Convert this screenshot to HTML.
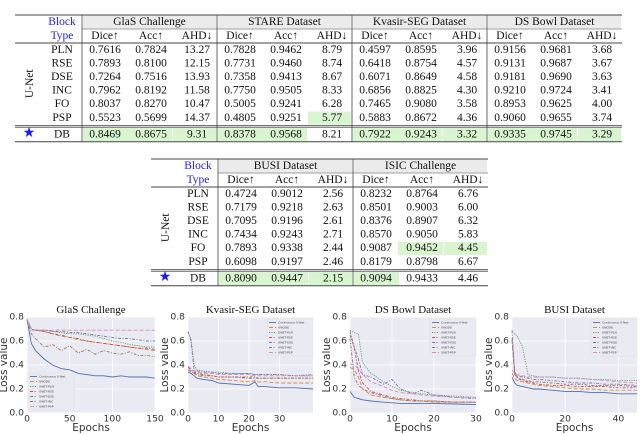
<!DOCTYPE html>
<html><head><meta charset="utf-8">
<style>
html,body{margin:0;padding:0;background:#fff;}
svg{display:block;}
</style></head>
<body>
<svg id="root" width="640" height="434" viewBox="0 0 640 434" xmlns="http://www.w3.org/2000/svg"></svg>
<script>
// ---------- table data ----------
const blockTypes = ["PLN","RSE","DSE","INC","FO","PSP","DB"];
const t1Datasets = ["GlaS Challenge","STARE Dataset","Kvasir-SEG Dataset","DS Bowl Dataset"];
const t1Values = [
 ["0.7616","0.7824","13.27","0.7828","0.9462","8.79","0.4597","0.8595","3.96","0.9156","0.9681","3.68"],
 ["0.7893","0.8100","12.15","0.7731","0.9460","8.74","0.6418","0.8754","4.57","0.9131","0.9687","3.67"],
 ["0.7264","0.7516","13.93","0.7358","0.9413","8.67","0.6071","0.8649","4.58","0.9181","0.9690","3.63"],
 ["0.7962","0.8192","11.58","0.7750","0.9505","8.33","0.6856","0.8825","4.30","0.9210","0.9724","3.41"],
 ["0.8037","0.8270","10.47","0.5005","0.9241","6.28","0.7465","0.9080","3.58","0.8953","0.9625","4.00"],
 ["0.5523","0.5699","14.37","0.4805","0.9251","5.77","0.5883","0.8672","4.36","0.9060","0.9655","3.74"],
 ["0.8469","0.8675","9.31","0.8378","0.9568","8.21","0.7922","0.9243","3.32","0.9335","0.9745","3.29"]];
const t1Green = [[5,5],[6,0],[6,1],[6,2],[6,3],[6,4],[6,6],[6,7],[6,8],[6,9],[6,10],[6,11]];
const t2Datasets = ["BUSI Dataset","ISIC Challenge"];
const t2Values = [
 ["0.4724","0.9012","2.56","0.8232","0.8764","6.76"],
 ["0.7179","0.9218","2.63","0.8501","0.9003","6.00"],
 ["0.7095","0.9196","2.61","0.8376","0.8907","6.32"],
 ["0.7434","0.9243","2.71","0.8570","0.9050","5.83"],
 ["0.7893","0.9338","2.44","0.9087","0.9452","4.45"],
 ["0.6098","0.9197","2.46","0.8179","0.8798","6.67"],
 ["0.8090","0.9447","2.15","0.9094","0.9433","4.46"]];
const t2Green = [[4,4],[4,5],[6,0],[6,1],[6,2],[6,3]];

// ---------- chart data ----------
const seriesNames = ["Continuous U-Net","UNODE","UNET-PLN","UNET-RSE","UNET-DSE","UNET-INC","UNET-PSP"];
const glasEpochs = [0,5,10,20,30,40,50,60,70,80,90,100,110,120,130,140,150];
const glasLoss = [
 [0.78,0.58,0.52,0.45,0.40,0.37,0.36,0.33,0.32,0.31,0.31,0.30,0.31,0.30,0.30,0.30,0.29],
 [0.78,0.70,0.69,0.68,0.66,0.64,0.63,0.61,0.60,0.59,0.58,0.57,0.56,0.55,0.54,0.53,0.52],
 [0.78,0.70,0.69,0.69,0.68,0.67,0.66,0.66,0.65,0.64,0.62,0.60,0.59,0.57,0.56,0.55,0.55],
 [0.78,0.70,0.69,0.68,0.66,0.65,0.63,0.62,0.60,0.59,0.58,0.57,0.56,0.55,0.54,0.54,0.53],
 [0.78,0.70,0.69,0.69,0.68,0.68,0.67,0.67,0.66,0.65,0.64,0.63,0.62,0.62,0.61,0.60,0.60],
 [0.78,0.66,0.62,0.55,0.57,0.52,0.56,0.50,0.53,0.49,0.52,0.50,0.49,0.51,0.48,0.48,0.47],
 [0.78,0.69,0.69,0.69,0.69,0.69,0.69,0.69,0.69,0.69,0.69,0.69,0.69,0.69,0.69,0.69,0.69]];
const kvasirEpochs = [0,1,2,3,5,8,10,15,20,22,23,25,30,35,41];
const kvasirLoss = [
 [.34,.33,.31,.29,.28,.27,.25,.24,.23,.26,.22,.22,.21,.21,.20],
 [.36,.34,.33,.31,.30,.29,.28,.27,.26,.27,.26,.26,.25,.25,.25],
 [.67,.62,.40,.36,.35,.34,.34,.33,.33,.32,.32,.32,.32,.31,.31],
 [.38,.36,.34,.33,.32,.31,.30,.30,.29,.29,.29,.29,.29,.29,.29],
 [.68,.60,.36,.35,.34,.34,.33,.33,.33,.32,.32,.32,.32,.31,.32],
 [.36,.35,.33,.32,.31,.31,.30,.30,.30,.30,.29,.29,.29,.29,.29],
 [.39,.37,.35,.34,.33,.33,.32,.32,.32,.31,.31,.31,.31,.31,.31]];
const bowlEpochs = [0,1,2,3,5,8,10,12,15,17,20,25,30];
const bowlLoss = [
 [.18,.13,.12,.11,.10,.09,.085,.08,.08,.08,.08,.075,.07],
 [.38,.36,.30,.20,.15,.13,.12,.11,.10,.10,.09,.09,.09],
 [.69,.67,.66,.42,.33,.26,.22,.19,.17,.16,.15,.14,.13],
 [.65,.55,.35,.25,.18,.15,.13,.12,.11,.10,.10,.09,.09],
 [.68,.55,.45,.32,.30,.24,.28,.20,.16,.19,.15,.13,.12],
 [.62,.30,.23,.20,.17,.14,.12,.11,.10,.10,.10,.09,.09],
 [.41,.40,.37,.32,.26,.22,.19,.17,.16,.15,.14,.13,.13]];
const busiEpochs = [0,1,2,4,6,8,10,15,20,25,30,35,40,47];
const busiLoss = [
 [.30,.25,.23,.22,.21,.20,.20,.19,.18,.18,.17,.17,.16,.16],
 [.33,.29,.27,.26,.25,.24,.23,.22,.21,.20,.20,.19,.19,.19],
 [.68,.66,.64,.55,.32,.31,.30,.30,.29,.29,.28,.28,.27,.27],
 [.62,.32,.29,.27,.26,.25,.24,.23,.23,.22,.22,.22,.21,.21],
 [.69,.34,.31,.30,.29,.28,.28,.27,.26,.25,.25,.24,.24,.23],
 [.60,.33,.30,.28,.27,.26,.26,.25,.24,.24,.23,.23,.23,.22],
 [.36,.33,.32,.31,.30,.30,.30,.30,.29,.29,.28,.27,.26,.25]];
const yTicks = [0.0,0.2,0.4,0.6,0.8];

const SERIF='"Liberation Serif","DejaVu Serif",serif';
const SANS='"DejaVu Sans","Liberation Sans",sans-serif';
const STY={
 tt:{f:SERIF,s:11.5,c:'#111'},
 tk:{f:SANS,s:9.2,c:'#333'},
 al:{f:SANS,s:10.5,c:'#333'},
 ct:{f:SERIF,s:11,c:'#111'},
 lg:{f:SANS,s:3,c:'#444'}
};
const NS="http://www.w3.org/2000/svg";
const root=document.getElementById('root');
function mk(tag,attrs,parent){const e=document.createElementNS(NS,tag);for(const k in attrs)e.setAttribute(k,attrs[k]);(parent||root).appendChild(e);return e;}
function txt(s,x,y,cls,anchor,parent){const st=STY[cls];const e=mk('text',{x:x,y:y,'font-family':st.f,'font-size':st.s,fill:st.c,'text-anchor':anchor||'middle','dominant-baseline':'central'},parent);e.textContent=s;return e;}

// ---------- tables ----------
function drawTable(ox,oy,datasets,values,greens,name){
  const g=mk('g',{});
  
  
  const dsW=135, left=ox, bx=ox+67, right=bx+dsW*datasets.length;
  const rh=13.6, top=oy, dataTop=oy+28;
  const rowY=i=> i<6 ? dataTop+rh*i : dataTop+rh*6+3;
  datasets.forEach((d,j)=>{mk('rect',{x:bx+dsW*j+1,y:top+0.5,width:dsW-2,height:13,fill:'#ebebeb'},g);});
  greens.forEach(([r,c])=>{const d=Math.floor(c/3),k=c%3;const x=bx+dsW*d+(k===0?1:k===1?45:91);
    const cell=mk('rect',{x:x,y:rowY(r)+0.5,width:k===2?43:45,height:rh-0.5,fill:'#d8f5d0'},g);
    
    });
  const b1=txt('Block',ox+47,top+7,'tt','middle',g);b1.setAttribute('fill','#2222ee');
  const b2=txt('Type',ox+47,top+21,'tt','middle',g);b2.setAttribute('fill','#2222ee');
  datasets.forEach((d,j)=>{
    const h=txt(d,bx+dsW*j+dsW/2,top+7,'tt','middle',g);
    
    
    ['Dice↑','Acc↑','AHD↓'].forEach((m,k)=>txt(m,bx+dsW*j+23+46*k,top+21,'tt','middle',g));
  });
  blockTypes.forEach((bt,i)=>{
    const cy=rowY(i)+rh/2;
    txt(bt,ox+47,cy,'tt','middle',g);
    values[i].forEach((v,c)=>{const d=Math.floor(c/3),k=c%3;txt(v,bx+dsW*d+23+46*k,cy,'tt','middle',g);});
  });
  const un=txt('U-Net',ox+15,dataTop+rh*3,'tt','middle',g);un.setAttribute('transform',`rotate(-90 ${ox+15} ${dataTop+rh*3})`);
  const st=txt('★',ox+14,rowY(6)+rh/2-1,'tt','middle',g);st.setAttribute('fill','#1a1aff');st.setAttribute('font-size','14');
  const ln=(x1,y1,x2,y2,w)=>mk('line',{x1,y1,x2,y2,stroke:'#444','stroke-width':w||0.8},g);
  ln(left,top,right,top,1);
  ln(bx,top+14,right,top+14,0.5);
  ln(left,dataTop,right,dataTop,1);
  ln(left,dataTop+rh*6+1,right,dataTop+rh*6+1,0.8);
  ln(left,dataTop+rh*6+2.6,right,dataTop+rh*6+2.6,0.8);
  ln(left,rowY(6)+rh+0.5,right,rowY(6)+rh+0.5,1);
  for(let j=0;j<=datasets.length-1;j++) ln(bx+dsW*j,top,bx+dsW*j,rowY(6)+rh+0.5,0.8);
}
drawTable(15,15,t1Datasets,t1Values,t1Green,'table-unet-blocks-1');
drawTable(151,159,t2Datasets,t2Values,t2Green,'table-unet-blocks-2');

// ---------- charts ----------
const colors=['#4c72b0','#dd8452','#55a868','#c44e52','#8172b3','#937860','#da8bc3'];
const dashes=['none','4 2','1.2 1.2','3 1.5 1 1.5','3 1.5 1 1.5','3 1.5 1 1.5','4 2'];
function drawChart(p){
  const g=mk('g',{});
  
  
  const py0=317, py1=413;
  const X=v=>p.x0+(p.x1-p.x0)*v/p.xmax, Y=v=>py1-(py1-py0)*v/0.8;
  mk('rect',{x:p.x0,y:py0,width:p.x1-p.x0,height:py1-py0,fill:'#eaeaf2'},g);
  yTicks.forEach(t=>{mk('line',{x1:p.x0,x2:p.x1,y1:Y(t),y2:Y(t),stroke:'#fff','stroke-width':0.8},g);
    txt(t.toFixed(1),p.x0-3,Y(t),'tk','end',g);});
  p.xticks.forEach(t=>{mk('line',{x1:X(t),x2:X(t),y1:py0,y2:py1,stroke:'#fff','stroke-width':0.8},g);
    txt(String(t),X(t),py1+6,'tk','middle',g);});
  p.loss.forEach((s,i)=>{
    const d=s.map((v,k)=>(k?'L':'M')+X(p.epochs[k]).toFixed(1)+' '+Y(v).toFixed(1)).join(' ');
    const path=mk('path',{d:d,fill:'none',stroke:colors[i],'stroke-width':0.9,'stroke-dasharray':dashes[i]},g);
    
    
  });
  const tt=txt(p.title,(p.x0+p.x1)/2,310,'ct','middle',g);
  
  
  const xl=txt('Epochs',(p.x0+p.x1)/2,428,'al','middle',g);
  
  
  const yx=p.x0-23, yy=(py0+py1)/2;
  const yl=txt('Loss value',yx,yy,'al','middle',g);
  yl.setAttribute('transform',`rotate(-90 ${yx} ${yy})`);
  
  
  const lg=mk('g',{},g);
  
  
  mk('rect',{x:p.lx,y:p.ly,width:46,height:37,fill:'#eaeaf2',stroke:'#ddd','stroke-width':0.4},lg);
  seriesNames.forEach((n,i)=>{const yy2=p.ly+3.5+i*5;
    mk('line',{x1:p.lx+2,x2:p.lx+9,y1:yy2,y2:yy2,stroke:colors[i],'stroke-width':0.9,'stroke-dasharray':dashes[i]},lg);
    txt(n,p.lx+11,yy2,'lg','start',lg);});
}
drawChart({name:'chart-glas',title:'GlaS Challenge',x0:27,x1:155,xmax:150,xticks:[0,50,100,150],epochs:glasEpochs,loss:glasLoss,lx:28,ly:373});
drawChart({name:'chart-kvasir',title:'Kvasir-SEG Dataset',x0:188,x1:313,xmax:41,xticks:[0,10,20,30],epochs:kvasirEpochs,loss:kvasirLoss,lx:267,ly:319});
drawChart({name:'chart-dsbowl',title:'DS Bowl Dataset',x0:350,x1:476,xmax:30,xticks:[0,10,20,30],epochs:bowlEpochs,loss:bowlLoss,lx:430,ly:319});
drawChart({name:'chart-busi',title:'BUSI Dataset',x0:512,x1:637,xmax:47,xticks:[0,20,40],epochs:busiEpochs,loss:busiLoss,lx:591,ly:319});
</script>
</body></html>
